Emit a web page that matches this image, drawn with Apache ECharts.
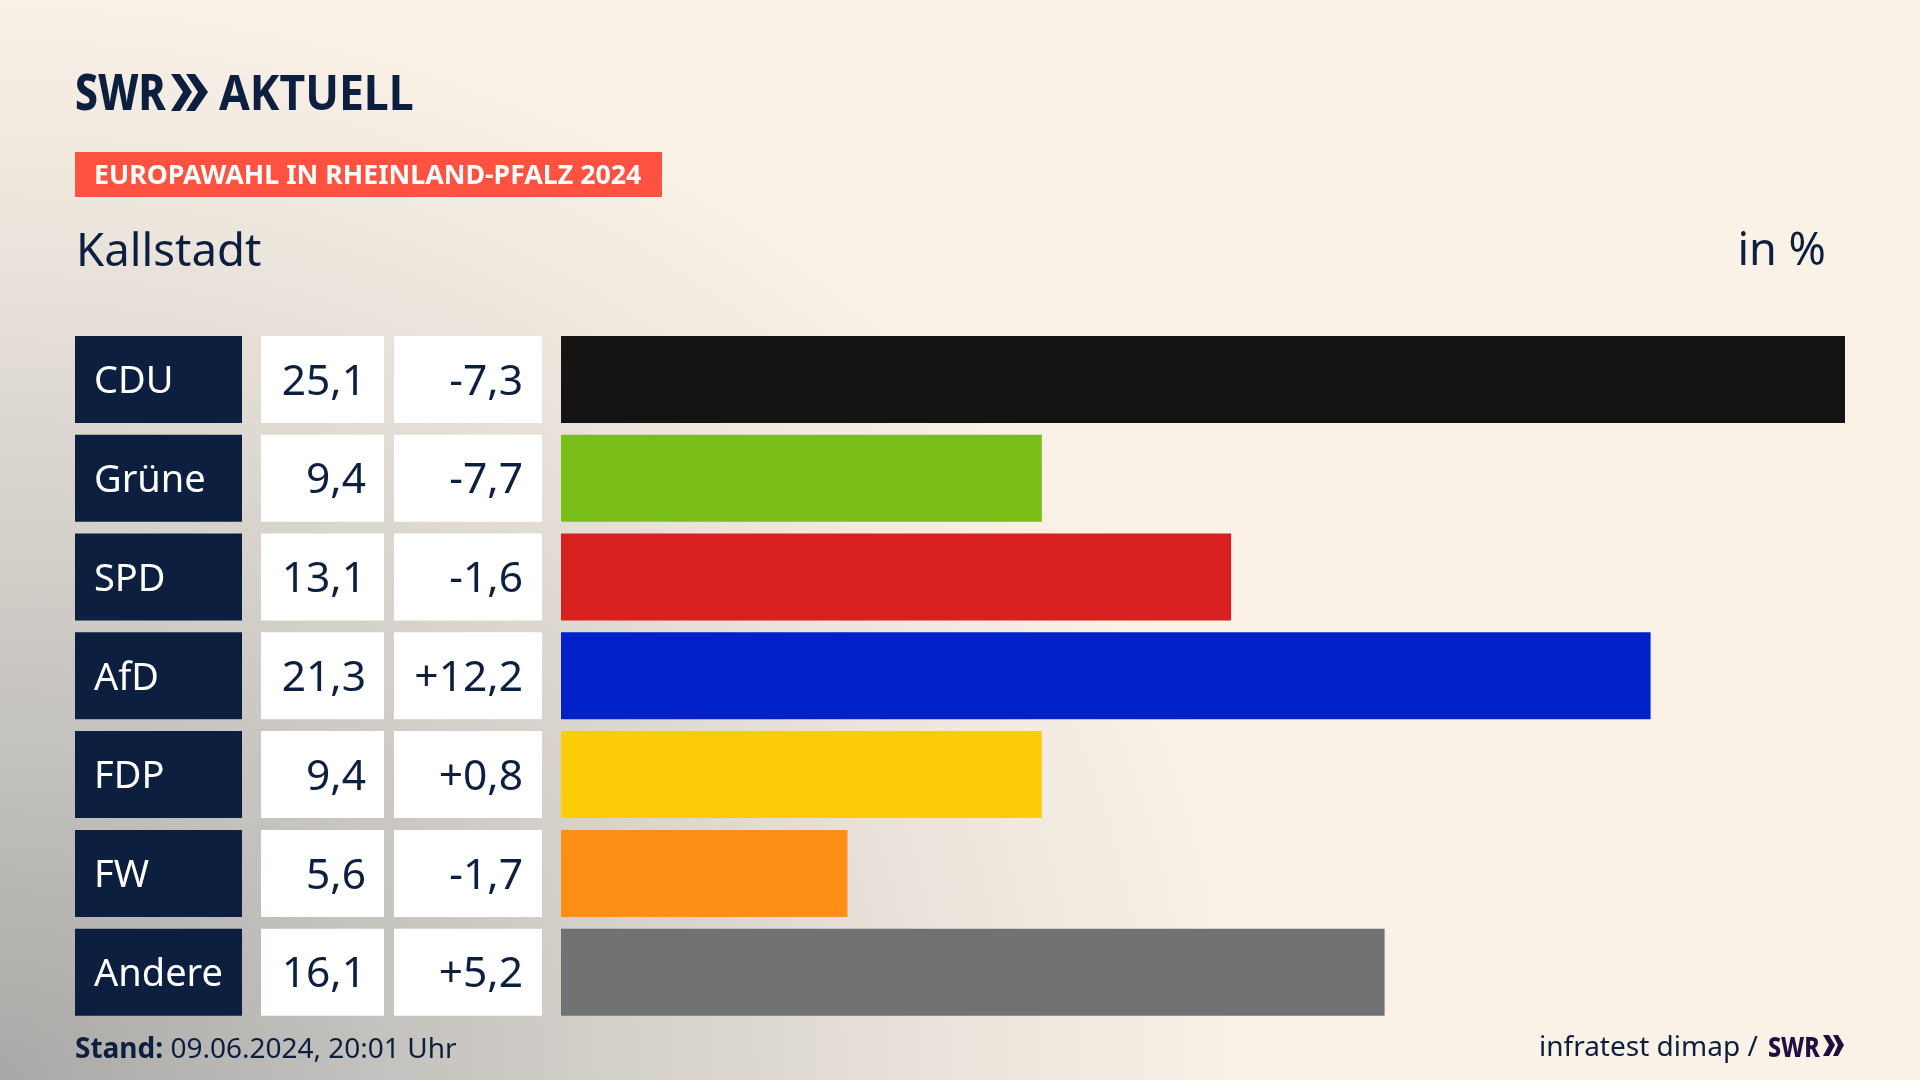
<!DOCTYPE html>
<html>
  <head>
    <meta charset="utf-8" />
    <script src="https://cdn.jsdelivr.net/npm/echarts@6/dist/echarts.min.js"></script>
    <style>
      html, body { margin: 0; width: 100%; height: 100%; overflow: hidden; background: #fbf2e7; }
      #main {
        width: 1920px;
        height: 1080px;
        background: radial-gradient(ellipse 1280px 1120px at 0 100%, #a8a8a6 0%, #c4c2be 30%, #dcd7d0 58%, #f0e9e0 82%, #fbf2e7 100%), #fbf2e7;
      }
    </style>
  </head>
  <body>
    <div id="main"></div>
    <script type="text/javascript">
      // Werte aus der Grafik
      var categories = ['CDU', 'Grüne', 'SPD', 'AfD', 'FDP', 'FW', 'Andere'];
      var results = [25.1, 9.4, 13.1, 21.3, 9.4, 5.6, 16.1];
      var changes = [-7.3, -7.7, -1.6, 12.2, 0.8, -1.7, 5.2];
      var partyColors = ['#141414', '#7abe1a', '#d7201f', '#0021c7', '#ffcc0a', '#ff8e17', '#717274'];

      var NAVY = '#0c1f3f';
      var FONT = '"Noto Sans"';
      var ROW_H = 87;

      function fmtResult(v) {
        return v.toFixed(1).replace('.', ',');
      }
      function fmtChange(v) {
        return (v > 0 ? '+' : '') + v.toFixed(1).replace('.', ',');
      }

      // linke Tabelle: Name, Ergebnis, Differenz
      function renderCells(params, api) {
        var i = api.value(1);
        var cy = api.coord([0, i])[1];
        var top = cy - ROW_H / 2;
        function cell(x, w, fill) {
          return { type: 'rect', shape: { x: x, y: top, width: w, height: ROW_H }, style: { fill: fill } };
        }
        function label(text, x, align, fill, size) {
          return {
            type: 'text',
            style: { text: text, x: x, y: cy + 3, align: align, verticalAlign: 'middle', fill: fill, font: size + 'px ' + FONT }
          };
        }
        return {
          type: 'group',
          children: [
            cell(75, 167, NAVY),
            cell(261, 123, '#ffffff'),
            cell(394, 148, '#ffffff'),
            label(categories[i], 94, 'left', '#ffffff', 38),
            label(fmtResult(results[i]), 366, 'right', NAVY, 42.5),
            label(fmtChange(changes[i]), 523, 'right', NAVY, 42.5)
          ]
        };
      }

      var myChart = echarts.init(document.getElementById('main'), null, { renderer: 'canvas' });
      var option = {
        animation: false,
        tooltip: { show: false },
        grid: { left: 561, right: 75, top: 330, height: 691.6 },
        xAxis: { type: 'value', min: 0, max: 25.1, show: false },
        yAxis: { type: 'category', data: categories, inverse: true, show: false },
        series: [
          {
            type: 'bar',
            barWidth: ROW_H,
            data: results.map(function (v, i) {
              return { value: v, itemStyle: { color: partyColors[i] } };
            }),
            silent: true
          },
          {
            type: 'custom',
            clip: false,
            silent: true,
            renderItem: renderCells,
            encode: { x: 0, y: 1 },
            data: categories.map(function (c, i) { return [0, i]; })
          }
        ],
        graphic: [
          // Logo oben
          { type: 'text', left: 75, top: 72, scaleX: 0.83, style: { text: 'SWR', fill: NAVY, font: '800 49px ' + FONT } },
          { type: 'polygon', shape: { points: [[171, 74], [180, 74], [192, 92], [180, 111], [171, 111], [183, 92]] }, style: { fill: NAVY } },
          { type: 'polygon', shape: { points: [[186, 74], [195, 74], [208, 92], [195, 111], [186, 111], [198, 92]] }, style: { fill: NAVY } },
          { type: 'text', left: 219, top: 72, scaleX: 0.91, style: { text: 'AKTUELL', fill: NAVY, font: '700 49px ' + FONT } },
          // Kopfzeile
          { type: 'rect', shape: { x: 75, y: 152, width: 587, height: 45 }, style: { fill: '#ff5240' } },
          { type: 'text', left: 94, top: 163, scaleX: 0.99, style: { text: 'EUROPAWAHL IN RHEINLAND-PFALZ 2024', fill: '#ffffff', font: '700 27px ' + FONT } },
          { type: 'text', left: 76, top: 230, style: { text: 'Kallstadt', fill: NAVY, font: '45.5px ' + FONT } },
          { type: 'text', right: 94, top: 230, style: { text: 'in %', fill: NAVY, font: '45px ' + FONT } },
          // Fusszeile
          {
            type: 'text', left: 75, top: 1036,
            style: {
              text: '{b|Stand:} 09.06.2024, 20:01 Uhr',
              fill: NAVY,
              font: '28px ' + FONT,
              rich: { b: { fill: NAVY, font: '700 28px ' + FONT } }
            }
          },
          { type: 'text', left: 1539, top: 1034, style: { text: 'infratest dimap /', fill: NAVY, font: '28px ' + FONT } },
          { type: 'text', left: 1768, top: 1035, scaleX: 0.83, style: { text: 'SWR', fill: '#1f0f40', font: '800 28px ' + FONT } },
          { type: 'polygon', shape: { points: [[1823, 1035], [1829, 1035], [1835, 1045], [1829, 1056], [1823, 1056], [1829, 1045]] }, style: { fill: '#1f0f40' } },
          { type: 'polygon', shape: { points: [[1833, 1035], [1838, 1035], [1844, 1045], [1838, 1056], [1833, 1056], [1838, 1045]] }, style: { fill: '#1f0f40' } }
        ]
      };
      myChart.setOption(option);
    </script>
  </body>
</html>
